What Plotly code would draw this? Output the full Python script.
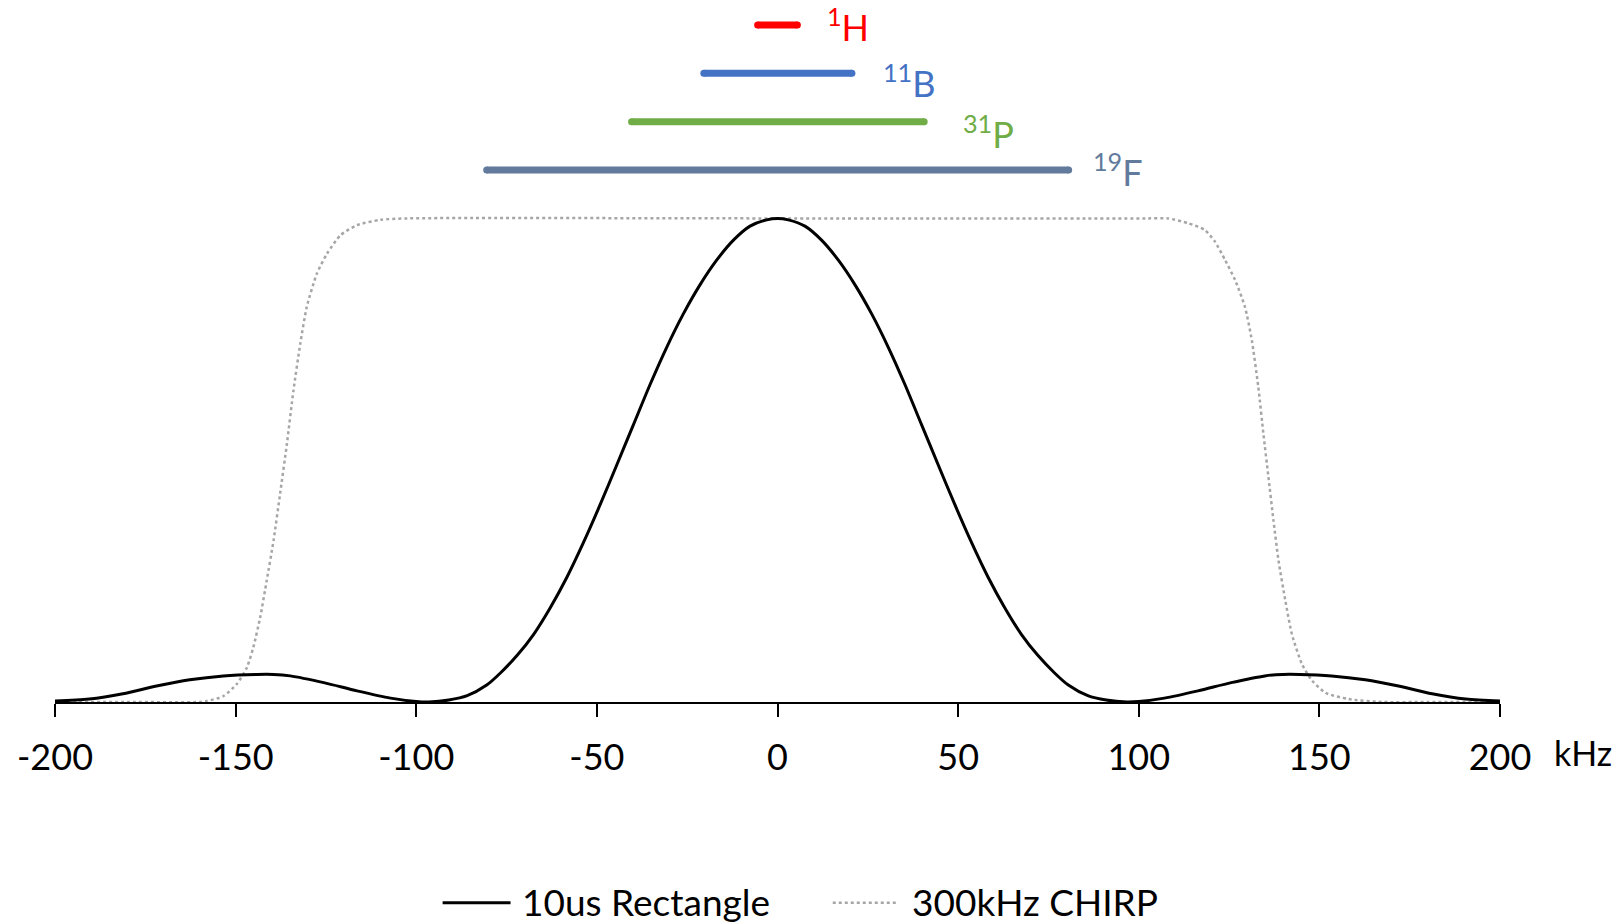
import plotly.graph_objects as go

# ---- data ----
# 10us rectangle excitation profile (kHz, relative amplitude)
rect_khz = [-200, -190.5, -181.2, -171.9, -162.7, -153.4, -144.2, -139.5, -134.9, -125.6,
            -116.4, -107.1, -100, -96.5, -91, -85.9, -80.5, -76.7, -72, -67.5, -62.9,
            -58.3, -53.7, -49.1, -44.5, -39.9, -35.3, -30.7, -26.1, -21.5, -16.9, -12.2,
            -7.6, -3.0, 0,
            3.0, 7.6, 12.2, 16.9, 21.5, 26.1, 30.7, 35.3, 39.9, 44.5, 49.1, 53.7, 58.3,
            62.9, 67.5, 72, 76.7, 80.5, 85.9, 91, 96.7, 100, 107.1, 116.4, 125.6, 134.9,
            139.8, 144.5, 153.4, 162.7, 171.9, 181.2, 190.5, 200]
rect_amp = [0.002, 0.006, 0.017, 0.033, 0.046, 0.054, 0.057, 0.057, 0.054, 0.040,
            0.023, 0.008, 0.001, 0.0, 0.004, 0.013, 0.035, 0.060, 0.097, 0.140, 0.195,
            0.258, 0.330, 0.408, 0.490, 0.573, 0.656, 0.733, 0.802, 0.862, 0.913, 0.955,
            0.984, 0.997, 1.0,
            0.997, 0.984, 0.955, 0.913, 0.862, 0.802, 0.733, 0.656, 0.573, 0.490, 0.408,
            0.330, 0.258, 0.195, 0.140, 0.097, 0.060, 0.035, 0.013, 0.004, 0.0, 0.001,
            0.008, 0.023, 0.040, 0.054, 0.057, 0.057, 0.054, 0.046, 0.033, 0.017, 0.006,
            0.002]

# 300 kHz CHIRP excitation profile
chirp_khz = [-200, -180, -160, -158, -153.4, -149.7, -146.9, -145.1, -143.2, -141.4,
             -139.5, -137.7, -135.8, -134.0, -132.1, -130.3, -127.5, -124.7, -121.0,
             -116.4, -109.9, -102.5, 0, 102.6, 108.1, 113.7, 118.3, 121.1, 123.9, 126.7,
             129.4, 131.3, 133.1, 134.5, 135.9, 137.3, 138.7, 140.6, 142.4, 145.2,
             148.0, 151.7, 158.1, 167.4, 180, 200]
chirp_amp = [0.0, 0.0, 0.0, 0.002, 0.012, 0.037, 0.071, 0.113, 0.175, 0.251,
             0.334, 0.430, 0.534, 0.644, 0.741, 0.817, 0.886, 0.927, 0.965,
             0.986, 0.997, 1.0, 1.0, 1.0, 1.0, 0.99, 0.976, 0.952, 0.914, 0.872,
             0.817, 0.748, 0.651, 0.555, 0.465, 0.375, 0.292, 0.209, 0.140, 0.078,
             0.044, 0.019, 0.006, 0.0, 0.0, 0.0]

# nucleus bandwidth bars
nuclei = ["<sup>1</sup>H", "<sup>11</sup>B", "<sup>31</sup>P", "<sup>19</sup>F"]
nuc_low = [-5.5, -20.4, -40.4, -80.5]
nuc_high = [5.5, 20.6, 40.6, 80.6]
nuc_level = [1.40, 1.30, 1.20, 1.10]
nuc_colors = ["#FF0000", "#4472C4", "#70AD47", "#627B9C"]
label_x = [13.2, 28.6, 50.8, 86.8]
label_y = [1.400, 1.284, 1.178, 1.101]

tick_vals = [-200, -150, -100, -50, 0, 50, 100, 150, 200]
tick_text = ["-200", "-150", "-100", "-50", "0", "50", "100", "150", "200"]
legend_names = ["10us Rectangle", "300kHz CHIRP"]

FONT = "Lato, 'Open Sans', sans-serif"

fig = go.Figure()

fig.add_trace(go.Scatter(x=chirp_khz, y=chirp_amp, mode="lines", name=legend_names[1],
                         line=dict(color="#A6A6A6", width=2.5, dash="dot", shape="spline",
                                   smoothing=0.6),
                         showlegend=False, hoverinfo="skip"))
fig.add_trace(go.Scatter(x=rect_khz, y=rect_amp, mode="lines", name=legend_names[0],
                         line=dict(color="black", width=3, shape="spline", smoothing=0.8),
                         showlegend=False, hoverinfo="skip"))

for name, lo, hi, lvl, col in zip(nuclei, nuc_low, nuc_high, nuc_level, nuc_colors):
    fig.add_trace(go.Scatter(x=[lo, hi], y=[lvl, lvl], mode="lines+markers",
                             line=dict(color=col, width=7),
                             marker=dict(color=col, size=7, line=dict(width=0)),
                             showlegend=False, hoverinfo="skip"))

annotations = []
for name, lx, ly, col in zip(nuclei, label_x, label_y, nuc_colors):
    annotations.append(dict(x=lx, y=ly, xref="x", yref="y", text=name, showarrow=False,
                            xanchor="left", yanchor="middle",
                            font=dict(family=FONT, size=36, color=col)))

# axis unit
annotations.append(dict(x=1.0358, y=-0.0726, xref="paper", yref="paper", text="kHz",
                        showarrow=False, xanchor="left", yanchor="middle",
                        font=dict(family=FONT, size=34, color="black")))

# manual legend
annotations.append(dict(x=-71.3, y=-0.2835, xref="x", yref="paper", text=legend_names[0],
                        showarrow=False, xanchor="left", yanchor="middle",
                        font=dict(family=FONT, size=37, color="black")))
annotations.append(dict(x=36.8, y=-0.2835, xref="x", yref="paper", text=legend_names[1],
                        showarrow=False, xanchor="left", yanchor="middle",
                        font=dict(family=FONT, size=37, color="black")))
shapes = [
    dict(type="line", xref="x", yref="paper", x0=-92.7, x1=-73.9, y0=-0.2859, y1=-0.2859,
         line=dict(color="black", width=3)),
    dict(type="line", xref="x", yref="paper", x0=15.3, x1=33.3, y0=-0.2859, y1=-0.2859,
         line=dict(color="#A6A6A6", width=2.5, dash="dot")),
]

fig.update_layout(
    width=1619, height=924,
    margin=dict(l=55, r=119, t=0, b=222),
    paper_bgcolor="white", plot_bgcolor="white",
    font=dict(family=FONT, color="black"),
    annotations=annotations, shapes=shapes,
    showlegend=False,
)
fig.update_xaxes(range=[-200, 200], tickmode="array", tickvals=tick_vals, ticktext=tick_text,
                 showgrid=False, zeroline=False, showline=True, linecolor="black",
                 linewidth=2, ticks="outside", ticklen=13, tickwidth=1.5, tickcolor="black",
                 tickfont=dict(family=FONT, size=36, color="black"), ticklabelstandoff=10,
                 fixedrange=True)
fig.update_yaxes(range=[0, 1.4516], visible=False, showgrid=False, zeroline=False,
                 fixedrange=True)

fig.write_html("out.html", config={"displayModeBar": False})
